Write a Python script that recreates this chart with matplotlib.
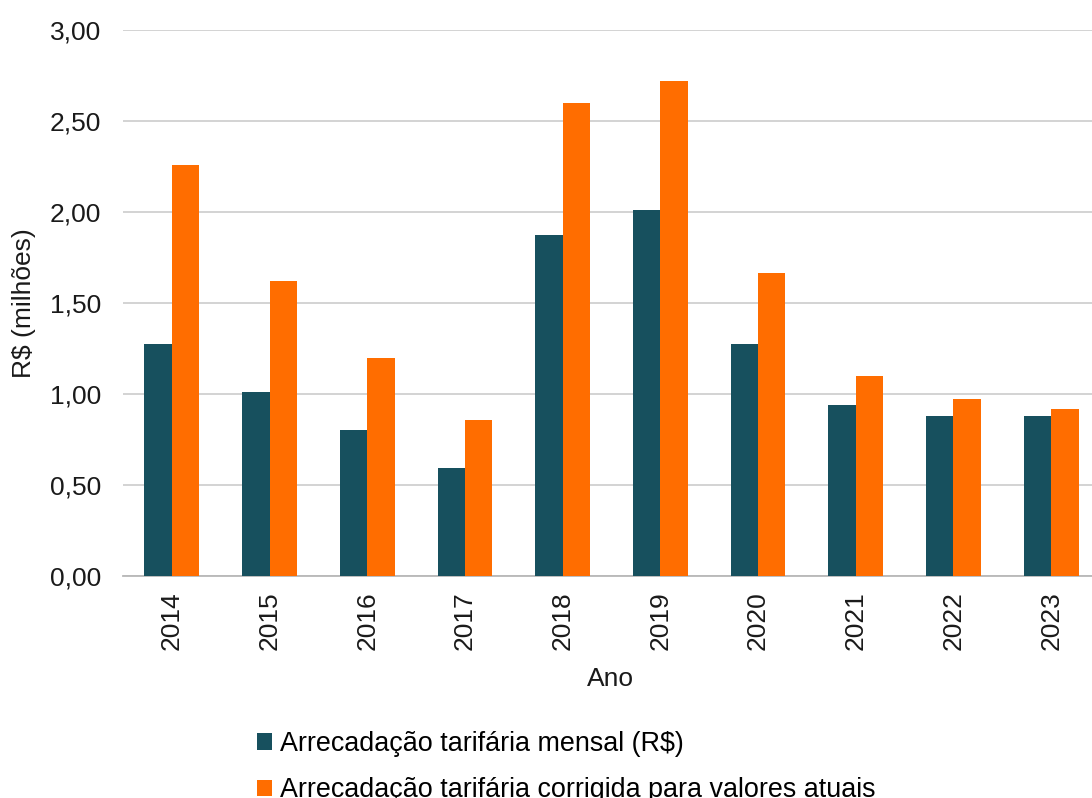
import matplotlib
matplotlib.use("Agg")
import matplotlib.pyplot as plt
import numpy as np
from matplotlib.patches import Patch
from matplotlib.ticker import FuncFormatter, MultipleLocator

plt.rcParams['font.family'] = ['Liberation Sans', 'DejaVu Sans']

anos = ['2014', '2015', '2016', '2017', '2018', '2019', '2020', '2021', '2022', '2023']
arrecadacao_mensal = [1.275, 1.01, 0.80, 0.595, 1.875, 2.01, 1.275, 0.94, 0.88, 0.88]
arrecadacao_corrigida = [2.26, 1.62, 1.20, 0.855, 2.60, 2.72, 1.665, 1.10, 0.97, 0.92]

serie_nomes = ['Arrecadação tarifária mensal (R$)',
               'Arrecadação tarifária corrigida para valores atuais']
cor_teal = '#17505E'
cor_laranja = '#FF6D00'

fig = plt.figure(figsize=(10.92, 7.98), dpi=100)
ax = fig.add_axes([123 / 1092, 1 - 576 / 798, 977 / 1092, 546 / 798])

x = np.arange(len(anos))
w = 0.28
ax.bar(x - w / 2, arrecadacao_mensal, width=w, color=cor_teal, zorder=3)
ax.bar(x + w / 2, arrecadacao_corrigida, width=w, color=cor_laranja, zorder=3)

ax.set_xlim(-0.5, len(anos) - 0.5)
ax.set_ylim(0, 3.0)
ax.yaxis.set_major_locator(MultipleLocator(0.5))
ax.yaxis.set_major_formatter(FuncFormatter(lambda v, p: f"{v:.2f}".replace('.', ',')))
ax.grid(axis='y', color='#d0d0d0', linewidth=1.3, zorder=0)
ax.set_axisbelow(True)

for s in ['top', 'right', 'left']:
    ax.spines[s].set_visible(False)
ax.spines['bottom'].set_color('#b8b8b8')
ax.spines['bottom'].set_linewidth(1.3)

ax.set_xticks(x)
ax.set_xticklabels(anos, rotation=90)
ax.tick_params(axis='both', length=0, labelsize=19, colors='#1a1a1a')
ax.tick_params(axis='y', pad=16)
ax.tick_params(axis='x', pad=11)

ax.set_ylabel('R$ (milhões)', fontsize=19, color='#1a1a1a', labelpad=10)
ax.set_xlabel('Ano', fontsize=19, color='#1a1a1a')
ax.xaxis.set_label_coords((610 - 123) / 977, -(667 - 576) / 546)

handles = [Patch(facecolor=cor_teal), Patch(facecolor=cor_laranja)]
fig.legend(handles, serie_nomes, loc='upper left',
           bbox_to_anchor=(257 / 1092, 1 - 731 / 798),
           frameon=False, fontsize=19.4, borderpad=0, borderaxespad=0,
           handlelength=0.55, handleheight=0.55, handletextpad=0.3,
           labelspacing=0.75)

fig.savefig('out.png', dpi=100)
